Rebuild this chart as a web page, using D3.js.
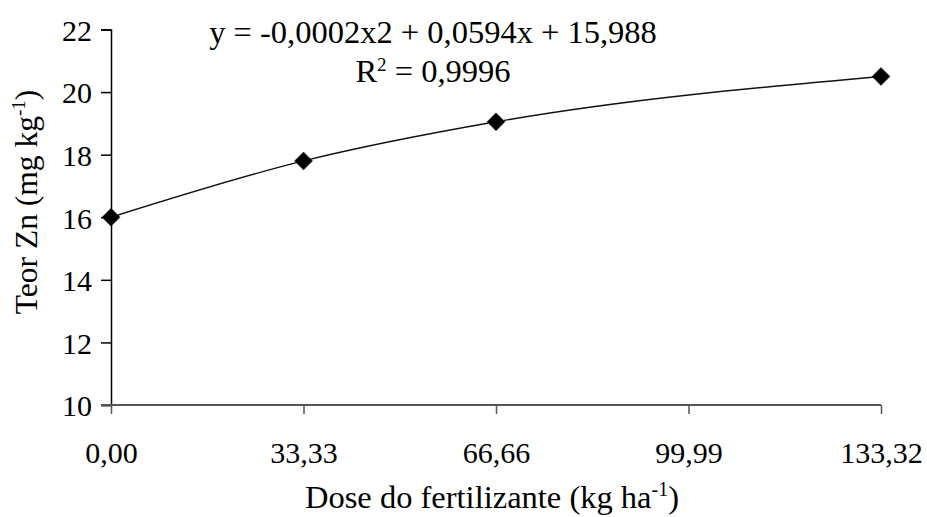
<!DOCTYPE html>
<html>
<head>
<meta charset="utf-8">
<script src="https://cdn.jsdelivr.net/npm/d3@7"></script>
<style>
    html, body { margin: 0; padding: 0; background: #fff; }
    #chart { width: 927px; height: 517px; }
</style>
</head>
<body>
<div id="chart"></div>
<script>
// Teor de Zn vs dose do fertilizante
const doses = [0, 33.33, 66.66, 133.32];
const teorZn = [16.0, 17.8, 19.05, 20.5];
const xTicks = [0, 33.33, 66.66, 99.99, 133.32];
const xTickLabels = ['0,00', '33,33', '66,66', '99,99', '133,32'];
const yTicks = [10, 12, 14, 16, 18, 20, 22];
const equationText = 'y = -0,0002x2 + 0,0594x + 15,988';
const r2Value = '0,9996';

const FONT = 'Liberation Serif';

function drawZnChart() {
    const container = d3.select('#chart');
    container.selectAll('*').remove();

    const W = 927, H = 517;
    const margin = { top: 29.5, right: 46, bottom: 112, left: 111 };
    const tickFont = 30;
    const labelFont = 32.5;

    const svg = container.append('svg')
        .attr('width', W)
        .attr('height', H);

    const xScale = d3.scaleLinear()
        .domain([0, 133.32])
        .range([margin.left, W - margin.right]);

    const yScale = d3.scaleLinear()
        .domain([10, 22])
        .range([H - margin.bottom, margin.top]);

    const data = doses.map((d, i) => ({ x: d, y: teorZn[i] }));

    // y axis (black)
    const yAxis = svg.append('g')
        .attr('transform', `translate(${margin.left},0)`)
        .call(d3.axisLeft(yScale)
            .tickValues(yTicks)
            .tickSize(10)
            .tickPadding(9)
            .tickFormat(d3.format('d')));
    yAxis.select('.domain').attr('stroke', '#000').attr('stroke-width', 1.5);
    yAxis.selectAll('.tick line').attr('stroke', '#000').attr('stroke-width', 1.5);
    yAxis.selectAll('.tick text')
        .attr('dy', '0.36em')
        .attr('font-family', FONT)
        .attr('font-size', tickFont)
        .attr('fill', '#000');

    // x axis (dark grey, like Excel)
    const xAxis = svg.append('g')
        .attr('transform', `translate(0,${H - margin.bottom})`)
        .call(d3.axisBottom(xScale)
            .tickValues(xTicks)
            .tickSize(9)
            .tickSizeOuter(0)
            .tickFormat((d, i) => xTickLabels[i]));
    xAxis.select('.domain')
        .attr('stroke', '#555')
        .attr('stroke-width', 2)
        .attr('d', `M${margin.left - 10},0H${W - margin.right}`);
    xAxis.selectAll('.tick line').attr('stroke', '#555').attr('stroke-width', 1.5);
    xAxis.selectAll('.tick text')
        .attr('y', 58)
        .attr('dy', 0)
        .attr('font-family', FONT)
        .attr('font-size', tickFont)
        .attr('fill', '#000');

    // Trend curve through the points
    const line = d3.line()
        .x(d => xScale(d.x))
        .y(d => yScale(d.y))
        .curve(d3.curveMonotoneX);

    svg.append('path')
        .datum(data)
        .attr('d', line)
        .attr('fill', 'none')
        .attr('stroke', '#111')
        .attr('stroke-width', 1.4);

    // Diamond markers
    const r = 9;
    svg.selectAll('.marker')
        .data(data)
        .enter()
        .append('path')
        .attr('class', 'marker')
        .attr('d', d => {
            const cx = xScale(d.x), cy = yScale(d.y);
            return `M${cx},${cy - r}L${cx + r},${cy}L${cx},${cy + r}L${cx - r},${cy}Z`;
        })
        .attr('fill', '#000')
        .attr('stroke', '#1f3a5a')
        .attr('stroke-width', 0.6);

    // Equation + R²
    svg.append('text')
        .attr('x', 433)
        .attr('y', 43)
        .attr('text-anchor', 'middle')
        .attr('font-family', FONT)
        .attr('font-size', labelFont)
        .text(equationText);

    const r2 = svg.append('text')
        .attr('x', 433)
        .attr('y', 82)
        .attr('text-anchor', 'middle')
        .attr('font-family', FONT)
        .attr('font-size', labelFont);
    r2.append('tspan').text('R');
    r2.append('tspan').attr('dy', -11).attr('font-size', 19).text('2');
    r2.append('tspan').attr('dy', 11).text(' = ' + r2Value);

    // Axis titles
    const xTitle = svg.append('text')
        .attr('x', 492)
        .attr('y', 508)
        .attr('text-anchor', 'middle')
        .attr('font-family', FONT)
        .attr('font-size', labelFont);
    xTitle.append('tspan').text('Dose do fertilizante (kg ha');
    xTitle.append('tspan').attr('dy', -12).attr('font-size', 20).text('-1');
    xTitle.append('tspan').attr('dy', 12).text(')');

    const yTitle = svg.append('text')
        .attr('transform', 'translate(37,202) rotate(-90)')
        .attr('text-anchor', 'middle')
        .attr('font-family', FONT)
        .attr('font-size', 31.5);
    yTitle.append('tspan').text('Teor Zn (mg kg');
    yTitle.append('tspan').attr('dy', -12).attr('font-size', 19).text('-1');
    yTitle.append('tspan').attr('dy', 12).text(')');
}

drawZnChart();
</script>
</body>
</html>
